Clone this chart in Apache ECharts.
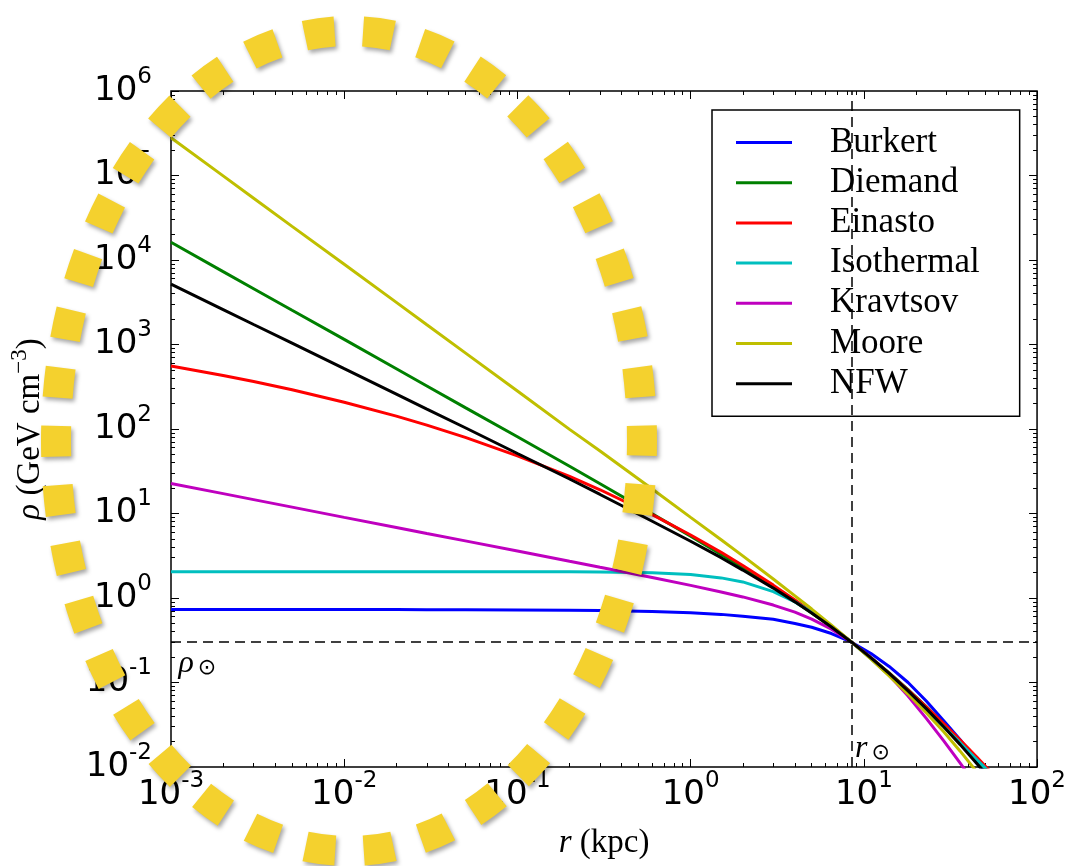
<!DOCTYPE html>
<html>
<head>
<meta charset="utf-8">
<script src="https://cdn.jsdelivr.net/npm/echarts@6/dist/echarts.min.js"></script>
<style>
  html, body { margin: 0; padding: 0; background: #fff; }
  #chart { width: 1069px; height: 866px; }
</style>
</head>
<body>
<div id="chart"></div>
<script>
// radius in kpc, density in GeV cm^-3
const radius = [0.001, 0.002, 0.003, 0.005, 0.01, 0.02, 0.03, 0.05, 0.1, 0.2, 0.3, 0.6, 1, 1.5, 2, 3, 4, 5, 6.5, 8.5, 11, 14, 18, 23, 29, 36, 45, 55];
const burkert = [0.73, 0.73, 0.73, 0.73, 0.73, 0.73, 0.725, 0.725, 0.72, 0.715, 0.71, 0.69, 0.67, 0.64, 0.61, 0.56, 0.50, 0.45, 0.38, 0.30, 0.22, 0.155, 0.10, 0.060, 0.035, 0.021, 0.0117, 0.0069];
const diemand = [16200, 7280, 4570, 2540, 1150, 516, 323, 179, 81, 36.2, 22.5, 9.9, 5.4, 3.27, 2.28, 1.34, 0.91, 0.665, 0.453, 0.30, 0.197, 0.130, 0.0825, 0.0514, 0.0321, 0.0202, 0.0122, 0.0077];
const einasto = [556, 429, 364, 291, 207, 142, 111, 79.5, 48, 27.5, 19.1, 9.7, 5.57, 3.47, 2.42, 1.42, 0.95, 0.685, 0.46, 0.30, 0.195, 0.128, 0.0815, 0.0513, 0.0325, 0.0209, 0.013, 0.0084];
const isothermal = [2.05, 2.05, 2.05, 2.05, 2.05, 2.05, 2.05, 2.05, 2.05, 2.04, 2.03, 1.99, 1.90, 1.73, 1.55, 1.19, 0.90, 0.68, 0.465, 0.30, 0.19, 0.122, 0.0755, 0.047, 0.0298, 0.0194, 0.0122, 0.0081];
const kravtsov = [22.7, 17.2, 14.6, 11.9, 9.0, 6.84, 5.8, 4.74, 3.6, 2.72, 2.31, 1.75, 1.41, 1.18, 1.03, 0.825, 0.68, 0.563, 0.428, 0.30, 0.196, 0.122, 0.069, 0.0374, 0.0202, 0.0111, 0.0059, 0.0033];
const moore = [280000, 99000, 53800, 25000, 8900, 3150, 1710, 796, 282, 99, 55, 19.5, 9.0, 4.9, 3.15, 1.68, 1.06, 0.74, 0.476, 0.30, 0.189, 0.12, 0.073, 0.0436, 0.0259, 0.0154, 0.0087, 0.0051];
const nfw = [5180, 2590, 1725, 1036, 517, 259, 172, 103.5, 51.3, 25.6, 16.8, 8.1, 4.7, 3.0, 2.14, 1.31, 0.90, 0.663, 0.454, 0.30, 0.196, 0.128, 0.0797, 0.0487, 0.0298, 0.0184, 0.0109, 0.0067];

const names = ['Burkert', 'Diemand', 'Einasto', 'Isothermal', 'Kravtsov', 'Moore', 'NFW'];
const colors = ['#0000ff', '#008000', '#ff0000', '#00bfbf', '#bf00bf', '#bfbf00', '#000000'];
const profiles = [burkert, diemand, einasto, isothermal, kravtsov, moore, nfw];

const xTicks = [0.001, 0.01, 0.1, 1, 10, 100];
const yTicks = [0.01, 0.1, 1, 10, 100, 1000, 10000, 100000, 1000000];
const rSun = 8.5;
const rhoSun = 0.3;

function minorTicks(majors) {
    const out = [];
    for (let i = 0; i < majors.length - 1; i++) {
        for (let m = 2; m <= 9; m++) out.push(majors[i] * m);
    }
    return out;
}

function powerLabel(v) {
    const e = Math.round(Math.log10(v));
    return '{b|10}{s|' + (e < 0 ? '-' + (-e) : e) + '}';
}

const tickRich = {
    b: {fontFamily: 'DejaVu Sans', fontSize: 34, color: '#000'},
    s: {fontFamily: 'DejaVu Sans', fontSize: 23, color: '#000', padding: [0, 0, 28, 0]}
};

function makeAxis(pos, ticks, len, lo, hi, label) {
    return {
        type: 'log', logBase: 10, position: pos, min: lo, max: hi,
        axisLine: {show: false},
        splitLine: {show: false},
        axisTick: {show: true, inside: true, length: len, customValues: ticks, lineStyle: {color: '#000', width: 1}},
        axisLabel: label ? Object.assign({customValues: ticks, formatter: powerLabel, rich: tickRich}, label) : {show: false}
    };
}

const serif = 'Liberation Serif';
const chart = echarts.init(document.getElementById('chart'));

const xMain = makeAxis('bottom', xTicks, 8, 0.001, 100, {margin: 3});
xMain.name = '{i|r} (kpc)';
xMain.nameLocation = 'middle';
xMain.nameGap = 60;
xMain.nameTextStyle = {fontFamily: serif, fontSize: 33, color: '#000',
    rich: {i: {fontFamily: serif, fontStyle: 'italic', fontSize: 33, color: '#000'}}};

const yMain = makeAxis('left', yTicks, 8, 0.01, 1000000, {margin: 19});
yMain.name = '{i|ρ} (GeV cm{s|−3})';
yMain.nameLocation = 'middle';
yMain.nameGap = 118;
yMain.nameTextStyle = {fontFamily: serif, fontSize: 33, color: '#000',
    rich: {
        i: {fontFamily: serif, fontStyle: 'italic', fontSize: 33, color: '#000'},
        s: {fontFamily: serif, fontSize: 23, color: '#000', padding: [0, 0, 22, 0]}
    }};

const markRich = {
    i: {fontFamily: serif, fontStyle: 'italic', fontSize: 32, color: '#000'},
    s: {fontFamily: 'DejaVu Sans', fontSize: 22, color: '#000', padding: [10, 0, 0, 4]}
};

const series = names.map((name, k) => {
    const s = {
        name: name,
        type: 'line',
        data: radius.map((r, i) => [r, profiles[k][i]]),
        showSymbol: false,
        lineStyle: {color: colors[k], width: 3},
        itemStyle: {color: colors[k]}
    };
    if (k === 0) {
        s.markLine = {
            silent: true, symbol: 'none', label: {show: false},
            lineStyle: {color: '#000', type: [10, 6], width: 1.5},
            data: [{xAxis: rSun}, {yAxis: rhoSun}]
        };
        s.markPoint = {
            silent: true, symbol: 'circle', symbolSize: 1,
            itemStyle: {color: 'rgba(0,0,0,0)'},
            data: [
                {coord: [0.001, rhoSun], label: {show: true, position: [8, 6], formatter: '{i|ρ}{s|⊙}', rich: markRich}},
                {coord: [rSun, 0.01], label: {show: true, position: [4, -34], formatter: '{i|r}{s|⊙}', rich: markRich}}
            ]
        };
    }
    return s;
});

const option = {
    animation: false,
    backgroundColor: '#fff',
    grid: {left: 166, right: 31, top: 91, bottom: 99, show: true, borderColor: '#000', borderWidth: 1.5},
    xAxis: [
        xMain,
        makeAxis('top', xTicks, 8, 0.001, 100),
        makeAxis('bottom', minorTicks(xTicks), 4, 0.001, 100),
        makeAxis('top', minorTicks(xTicks), 4, 0.001, 100)
    ],
    yAxis: [
        yMain,
        makeAxis('right', yTicks, 8, 0.01, 1000000),
        makeAxis('left', minorTicks(yTicks), 4, 0.01, 1000000),
        makeAxis('right', minorTicks(yTicks), 4, 0.01, 1000000)
    ],
    legend: {
        orient: 'vertical', left: 712, top: 110,
        icon: 'rect', itemWidth: 56, itemHeight: 3, itemGap: 5.2,
        padding: [15, 40, 15, 24],
        borderColor: '#000', borderWidth: 1.5, backgroundColor: '#fff',
        selectedMode: false, z: 5,
        textStyle: {fontFamily: serif, fontSize: 35, lineHeight: 32, color: '#000', padding: [0, 0, 0, 33]},
        data: names
    },
    graphic: [{
        type: 'ellipse', z: 100, silent: true,
        shape: {cx: 349, cy: 441, rx: 293, ry: 410},
        style: {
            fill: 'none', stroke: '#f4d12e', lineWidth: 30, lineDash: [30, 28.5], lineDashOffset: 15,
            shadowBlur: 4, shadowOffsetX: 2, shadowOffsetY: 3, shadowColor: 'rgba(0,0,0,0.35)'
        }
    }],
    series: series
};

chart.setOption(option);
</script>
</body>
</html>
